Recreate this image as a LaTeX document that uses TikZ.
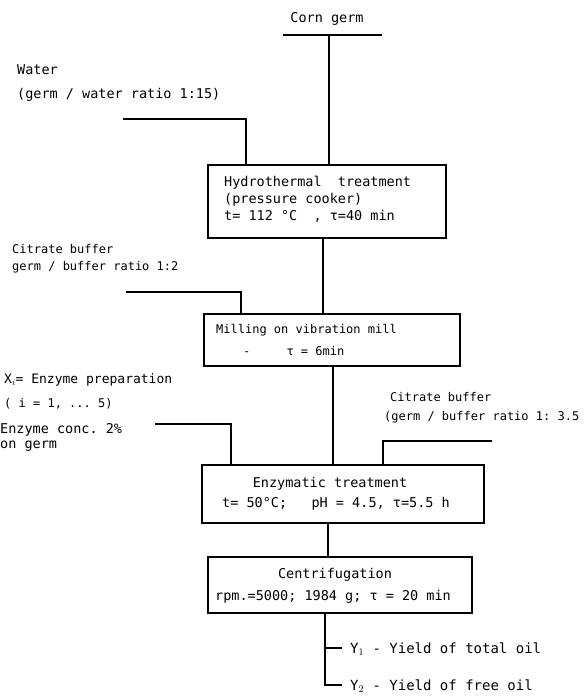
\documentclass[tikz,border=0pt]{standalone}
\usepackage{fontspec}
\setmonofont{DejaVu Sans Mono}
\begin{document}
\begin{tikzpicture}[x=1pt,y=-1pt,
  lbl/.style={font=\ttfamily\fontsize{#1}{17}\selectfont, inner sep=0pt, anchor=west, align=left},
  lbl/.default=13.5,
  ctr/.style={font=\ttfamily\fontsize{#1}{17}\selectfont, inner sep=0pt, align=center},
  ctr/.default=13.5,
  procbox/.style={draw, line width=1.8pt, inner sep=0pt},
  flow/.style={line width=1.8pt}]
\useasboundingbox (0,0) rectangle (588,696);

% corn germ
\node[ctr] (cg) at (327,19) {Corn germ};
\coordinate (cgL) at (283,35);
\coordinate (cgR) at (382,35);
\coordinate (cgM) at (329,35);
\draw[flow] (cgL) -- (cgR);

% box 1
\node[procbox, minimum width=238pt, minimum height=73pt] (b1) at (327,201.5) {};
\node[lbl] (b1t) at (224,199) {Hydrothermal\ \ treatment\\(pressure cooker)\\t= 112 °C\ \ , τ=40 min};
\draw[flow] (cgM) -- (cgM |- b1.north);

% water
\node[lbl] (w1) at (17,70) {Water};
\node[lbl] (w2) at (17,95) {(germ / water ratio 1:15)};
\coordinate (wS) at (123,119);
\coordinate (wC) at (246,119);
\draw[flow] (wS) -- (wC) -- (wC |- b1.north);

% box 2
\node[procbox, minimum width=256pt, minimum height=52pt] (b2) at (332,340) {};
\node[lbl=12] (b2a) at (216,330) {Milling on vibration mill};
\node[lbl=12] (b2b) at (243,351) {-\ \ \ \ \ τ = 6min};
\coordinate (c12) at (323,0);
\draw[flow] (c12 |- b1.south) -- (c12 |- b2.north);

% citrate buffer left
\node[lbl=12] (cb1) at (12,249) {Citrate buffer};
\node[lbl=12] (cb2) at (12,267) {germ / buffer ratio 1:2};
\coordinate (cbS) at (126,292);
\coordinate (cbC) at (241,292);
\draw[flow] (cbS) -- (cbC) -- (cbC |- b2.north);

% box 3
\node[procbox, minimum width=282pt, minimum height=58pt] (b3) at (343,494) {};
\node[ctr] (b3a) at (330,484) {Enzymatic treatment};
\node[ctr] (b3b) at (336,504) {t= 50°C;\ \ \ pH = 4.5, τ=5.5 h};
\coordinate (c23) at (333,0);
\draw[flow] (c23 |- b2.south) -- (c23 |- b3.north);

% enzyme
\node[lbl=13] (e1) at (4,380) {X$_i$= Enzyme preparation};
\node[lbl=12] (e2) at (4,404) {( i = 1, ... 5)};
\node[lbl] (e3) at (0,430) {Enzyme conc. 2\%};
\node[lbl] (e4) at (0,446) {on germ};
\coordinate (eS) at (155,424);
\coordinate (eC) at (231,424);
\draw[flow] (eS) -- (eC) -- (eC |- b3.north);

% citrate buffer right
\node[lbl=12] (cr1) at (390,397) {Citrate buffer};
\node[lbl=12] (cr2) at (384,417) {(germ / buffer ratio 1: 3.5};
\coordinate (crS) at (492,441);
\coordinate (crC) at (383,441);
\draw[flow] (crS) -- (crC) -- (crC |- b3.north);

% box 4
\node[procbox, minimum width=264pt, minimum height=56pt] (b4) at (340,585) {};
\node[ctr] (b4a) at (335,575) {Centrifugation};
\node[ctr] (b4b) at (333,597) {rpm.=5000; 1984 g; τ = 20 min};
\coordinate (c34) at (328,0);
\draw[flow] (c34 |- b3.south) -- (c34 |- b4.north);

% outputs
\coordinate (c45) at (325,0);
\coordinate (o1) at (325,648);
\coordinate (o2) at (325,685);
\coordinate (y1e) at (342,648);
\coordinate (y2e) at (342,685);
\draw[flow] (c45 |- b4.south) -- (o2) -- (y2e);
\draw[flow] (o1) -- (y1e);
\node[lbl=14] (y1) at (350,649) {Y$_1$ - Yield of total oil};
\node[lbl=14] (y2) at (350,686) {Y$_2$ - Yield of free oil};
\end{tikzpicture}
\end{document}
